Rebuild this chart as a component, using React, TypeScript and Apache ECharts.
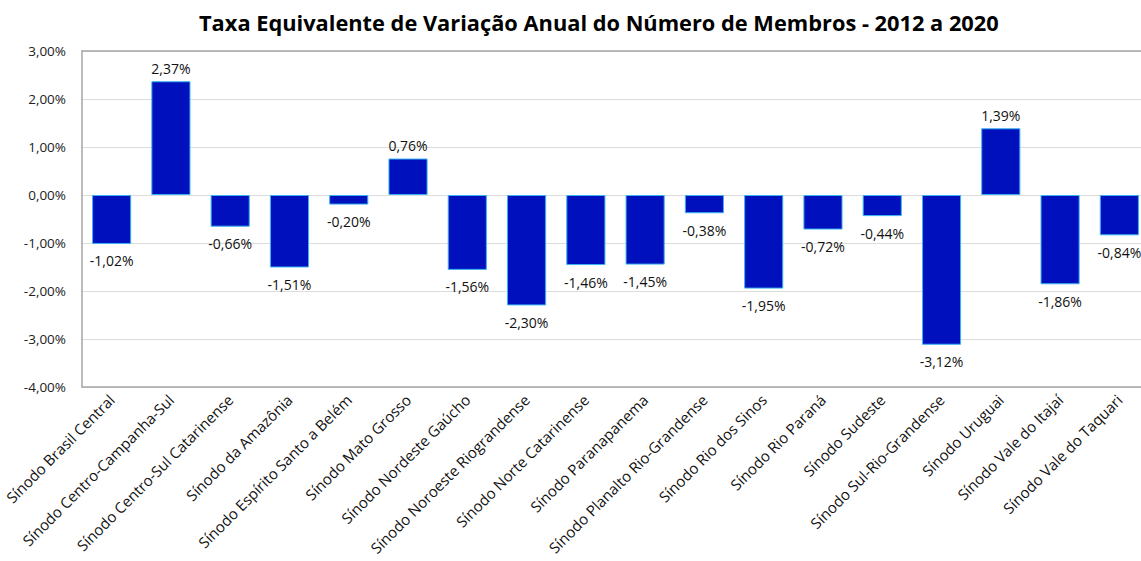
import React, { useEffect, useRef } from "react";
import * as echarts from "echarts";

const categories = [
  "Sínodo Brasil Central",
  "Sínodo Centro-Campanha-Sul",
  "Sínodo Centro-Sul Catarinense",
  "Sínodo da Amazônia",
  "Sínodo Espírito Santo a Belém",
  "Sínodo Mato Grosso",
  "Sínodo Nordeste Gaúcho",
  "Sínodo Noroeste Riograndense",
  "Sínodo Norte Catarinense",
  "Sínodo Paranapanema",
  "Sínodo Planalto Rio-Grandense",
  "Sínodo Rio dos Sinos",
  "Sínodo Rio Paraná",
  "Sínodo Sudeste",
  "Sínodo Sul-Rio-Grandense",
  "Sínodo Uruguai",
  "Sínodo Vale do Itajaí",
  "Sínodo Vale do Taquari",
];

const values = [
  -1.02, 2.37, -0.66, -1.51, -0.2, 0.76, -1.56, -2.3, -1.46, -1.45, -0.38,
  -1.95, -0.72, -0.44, -3.12, 1.39, -1.86, -0.84,
];

const yTicks = { min: -4, max: 3, interval: 1 };

const title =
  "Taxa Equivalente de Variação Anual do Número de Membros - 2012 a 2020";

const fmt = (v: number) => v.toFixed(2).replace(".", ",") + "%";

const FONT = "'Open Sans', 'Noto Sans', sans-serif";
const FRAME = { color: "#a6a6a6", width: 1.5 };

export default function App() {
  const ref = useRef<HTMLDivElement>(null);
  useEffect(() => {
    if (!ref.current) return;
    const chart = echarts.init(ref.current, null, { renderer: "svg" });
    chart.setOption({
      animation: false,
      backgroundColor: "#ffffff",
      textStyle: { fontFamily: FONT },
      title: {
        text: title,
        left: 194,
        top: 6,
        textStyle: {
          fontFamily: FONT,
          fontSize: 21.8,
          fontWeight: "bold",
          color: "#000",
        },
      },
      grid: {
        left: 82,
        top: 51,
        bottom: 174,
        right: 1,
        show: false,
        containLabel: false,
      },
      xAxis: [
        {
          type: "category",
          data: categories,
          position: "bottom",
          axisLine: { show: true, onZero: false, lineStyle: FRAME },
          axisTick: { show: false },
          axisLabel: {
            rotate: 45,
            interval: 0,
            margin: 10,
            fontSize: 15,
            color: "#111",
            fontFamily: FONT,
          },
        },
        {
          type: "category",
          data: categories,
          position: "top",
          axisLine: { show: true, onZero: false, lineStyle: FRAME },
          axisTick: { show: false },
          axisLabel: { show: false },
        },
      ],
      yAxis: {
        type: "value",
        min: yTicks.min,
        max: yTicks.max,
        interval: yTicks.interval,
        axisLine: { show: true, lineStyle: FRAME },
        axisTick: { show: false },
        splitLine: { lineStyle: { color: "#dcdcdc", width: 1 } },
        axisLabel: {
          formatter: (v: number) => fmt(v),
          fontSize: 13.5,
          color: "#222",
          margin: 16,
          fontFamily: FONT,
        },
      },
      series: [
        {
          type: "bar",
          xAxisIndex: 0,
          data: values.map((v) => ({
            value: v,
            label: {
              position: v >= 0 ? "top" : "bottom",
              distance: v >= 0 ? 6 : 10,
            },
          })),
          barCategoryGap: "34%",
          itemStyle: {
            color: "#0010bd",
            borderColor: "#3ab4f0",
            borderWidth: 1,
          },
          label: {
            show: true,
            formatter: (p: any) => fmt(p.value),
            fontSize: 14,
            color: "#111",
            fontFamily: FONT,
          },
        },
      ],
    });
    return () => chart.dispose();
  }, []);
  return (
    <div
      style={{
        position: "fixed",
        left: 0,
        top: 0,
        width: 1141,
        height: 561,
        overflow: "hidden",
        background: "#fff",
      }}
    >
      <div ref={ref} style={{ width: 1150, height: 561 }} />
    </div>
  );
}
